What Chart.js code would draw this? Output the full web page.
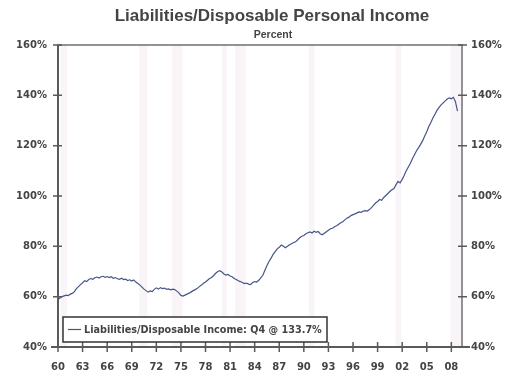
<!DOCTYPE html>
<html>
<head>
<meta charset="utf-8">
<script src="https://cdn.jsdelivr.net/npm/chart.js@4"></script>
<style>
  html, body { margin: 0; padding: 0; background: #fff; }
  #wrap { width: 507px; height: 376px; position: relative; }
</style>
</head>
<body>
<div id="wrap"><canvas id="chart" width="507" height="376"></canvas></div>
<script>
// quarterly series, 1960Q1 .. 2008Q4 (percent)
const startYear = 1960;
const ratio = [
  59.0, 59.5, 60.0, 60.3,   60.6, 60.4, 61.0, 61.3,   62.0, 63.2, 64.0, 64.8,
  65.5, 66.3, 66.0, 66.8,   67.2, 66.9, 67.5, 67.8,   67.4, 67.9, 68.1, 67.7,
  68.0, 67.6, 67.9, 67.3,   67.6, 67.1, 66.9, 67.3,   66.8, 67.0, 66.4, 66.7,
  66.2, 66.6, 65.8, 65.2,   64.6, 63.8, 63.0, 62.4,   61.8, 62.3, 62.0, 62.9,
  63.5, 63.0, 63.6, 63.2,   63.4, 62.9, 63.1, 62.7,   63.0, 62.8, 62.2, 61.5,
  60.5, 60.2, 60.6, 61.0,   61.4, 61.9, 62.4, 62.8,   63.3, 64.0, 64.6, 65.3,
  65.8, 66.5, 67.2, 67.6,   68.4, 69.3, 70.0, 70.3,   69.8, 69.0, 68.6, 68.8,
  68.2, 67.9, 67.2, 66.8,   66.3, 66.0, 65.6, 65.2,   65.4, 65.0, 64.8, 65.6,
  66.0, 65.8, 66.5, 67.5,   68.5, 70.5, 72.4, 74.0,   75.3, 76.8, 77.9, 79.0,
  79.6, 80.5, 80.0, 79.4,   80.0, 80.6, 81.0, 81.5,   81.8, 82.6, 83.4, 84.0,
  84.3, 85.0, 85.4, 85.7,   85.3, 86.0, 85.6, 85.9,   85.0, 84.6, 85.2, 85.8,
  86.4, 87.0, 87.2, 87.8,   88.2, 88.8, 89.4, 89.8,   90.5, 91.2, 91.6, 92.2,
  92.6, 92.9, 93.3, 93.7,   93.5, 94.0, 94.2, 94.0,   94.6, 95.4, 96.3, 97.2,
  97.8, 98.6, 98.3, 99.4,   100.2, 101.0, 101.8, 102.5, 103.0, 104.5, 105.8, 105.2,
  106.6, 108.2, 110.0, 111.5, 113.0, 114.8, 116.4, 118.0, 119.2, 120.5, 122.0, 123.8,
  125.5, 127.6, 129.2, 131.0, 132.5, 134.0, 135.2, 136.2, 137.0, 137.8, 138.5, 139.0,
  138.6, 139.2, 137.5, 133.7
];
const xTicks = [1960, 1963, 1966, 1969, 1972, 1975, 1978, 1981, 1984, 1987, 1990, 1993, 1996, 1999, 2002, 2005, 2008];
const xTickLabels = ['60', '63', '66', '69', '72', '75', '78', '81', '84', '87', '90', '93', '96', '99', '02', '05', '08'];
const yTicks = [40, 60, 80, 100, 120, 140, 160];
// shaded recession periods (start, end) in years
const recessions = [
  [1960.3, 1961.1], [1969.9, 1970.9], [1973.9, 1975.2], [1980.0, 1980.6],
  [1981.6, 1982.9], [1990.6, 1991.3], [2001.2, 2001.9], [2007.9, 2009.3]
];
const titleText = 'Liabilities/Disposable Personal Income';
const subtitleText = 'Percent';
const legendText = 'Liabilities/Disposable Income: Q4 @ 133.7%';

const points = ratio.map((v, i) => ({ x: startYear + i / 4, y: v }));

const frameColor = '#5a5a5a';
const textColor = '#444';

const backdrop = {
  id: 'backdrop',
  beforeDatasetsDraw(chart) {
    const { ctx, chartArea: a, scales: { x } } = chart;
    ctx.save();
    ctx.fillStyle = 'rgba(236, 218, 230, 0.3)';
    recessions.forEach(([s, e]) => {
      const x0 = Math.max(a.left, x.getPixelForValue(s));
      const x1 = Math.min(a.right, x.getPixelForValue(e));
      ctx.fillRect(x0, a.top, x1 - x0, a.bottom - a.top);
    });
    ctx.restore();
  }
};

const frame = {
  id: 'frame',
  afterDraw(chart) {
    const { ctx, chartArea: a, scales: { x, y } } = chart;
    ctx.save();
    ctx.strokeStyle = '#707070';
    ctx.lineWidth = 1.5;
    ctx.strokeRect(a.left, a.top, a.right - a.left, a.bottom - a.top);
    ctx.strokeStyle = frameColor;
    ctx.lineWidth = 2;
    ctx.beginPath();
    ctx.moveTo(a.left, a.top); ctx.lineTo(a.left, a.bottom + 1);
    ctx.moveTo(a.left - 7, a.bottom); ctx.lineTo(a.right + 8, a.bottom);
    ctx.stroke();
    ctx.lineWidth = 1.5;
    ctx.beginPath();
    yTicks.forEach(v => {
      const py = y.getPixelForValue(v);
      ctx.moveTo(a.left - 5, py); ctx.lineTo(a.left + 4, py);
      ctx.moveTo(a.right - 4, py); ctx.lineTo(a.right + 5, py);
    });
    xTicks.forEach(v => {
      const px = x.getPixelForValue(v);
      ctx.moveTo(px, a.bottom - 5); ctx.lineTo(px, a.bottom + 5);
    });
    ctx.stroke();

    // titles
    ctx.fillStyle = textColor;
    ctx.textAlign = 'center';
    ctx.textBaseline = 'middle';
    ctx.font = 'bold 17px "Liberation Sans", Arial, sans-serif';
    ctx.fillText(titleText, 272, 16);
    ctx.font = 'bold 10.5px "Liberation Sans", Arial, sans-serif';
    ctx.fillText(subtitleText, 273, 35);

    // legend box
    const bx = 63, by = 317, bw = 264, bh = 25;
    ctx.fillStyle = '#fff';
    ctx.fillRect(bx, by, bw, bh);
    ctx.strokeStyle = '#333';
    ctx.lineWidth = 1.5;
    ctx.strokeRect(bx, by, bw, bh);
    ctx.strokeStyle = '#555';
    ctx.lineWidth = 1.2;
    ctx.beginPath();
    ctx.moveTo(68, by + bh / 2); ctx.lineTo(81, by + bh / 2);
    ctx.stroke();
    ctx.font = 'bold 10px "DejaVu Sans", sans-serif';
    const w = ctx.measureText(legendText).width;
    const size = 10 * 238 / w;
    ctx.font = 'bold ' + size.toFixed(2) + 'px "DejaVu Sans", sans-serif';
    ctx.fillStyle = textColor;
    ctx.textAlign = 'left';
    ctx.fillText(legendText, 84, by + bh / 2 + 0.5);
    ctx.restore();
  }
};

const tickFont = { family: '"DejaVu Sans", sans-serif', size: 10, weight: 'bold' };

new Chart(document.getElementById('chart').getContext('2d'), {
  type: 'line',
  data: {
    datasets: [{
      label: legendText,
      data: points,
      borderColor: '#46558a',
      borderWidth: 1.2,
      pointRadius: 0,
      tension: 0,
      fill: false,
      yAxisID: 'y'
    }]
  },
  options: {
    responsive: false,
    animation: false,
    layout: { padding: { top: 45, left: 0, right: 0, bottom: 0 } },
    plugins: { legend: { display: false }, tooltip: { enabled: false } },
    scales: {
      x: {
        type: 'linear',
        min: 1960,
        max: 2009.3,
        afterBuildTicks: s => { s.ticks = xTicks.map(v => ({ value: v })); },
        afterFit: s => { s.height = 29; },
        grid: { drawOnChartArea: false, drawTicks: false },
        border: { display: false },
        ticks: {
          padding: 14,
          color: textColor,
          font: tickFont,
          maxRotation: 0,
          autoSkip: false,
          callback: v => xTickLabels[xTicks.indexOf(v)]
        }
      },
      y: {
        position: 'left',
        min: 40,
        max: 160,
        afterFit: s => { s.width = 58; },
        grid: { drawOnChartArea: false, drawTicks: false },
        border: { display: false },
        ticks: { stepSize: 20, padding: 11, color: textColor, font: tickFont, callback: v => v + '%' }
      },
      y2: {
        position: 'right',
        min: 40,
        max: 160,
        afterFit: s => { s.width = 45; },
        grid: { drawOnChartArea: false, drawTicks: false },
        border: { display: false },
        ticks: { stepSize: 20, padding: 9, color: textColor, font: tickFont, callback: v => v + '%' }
      }
    }
  },
  plugins: [backdrop, frame]
});
</script>
</body>
</html>
